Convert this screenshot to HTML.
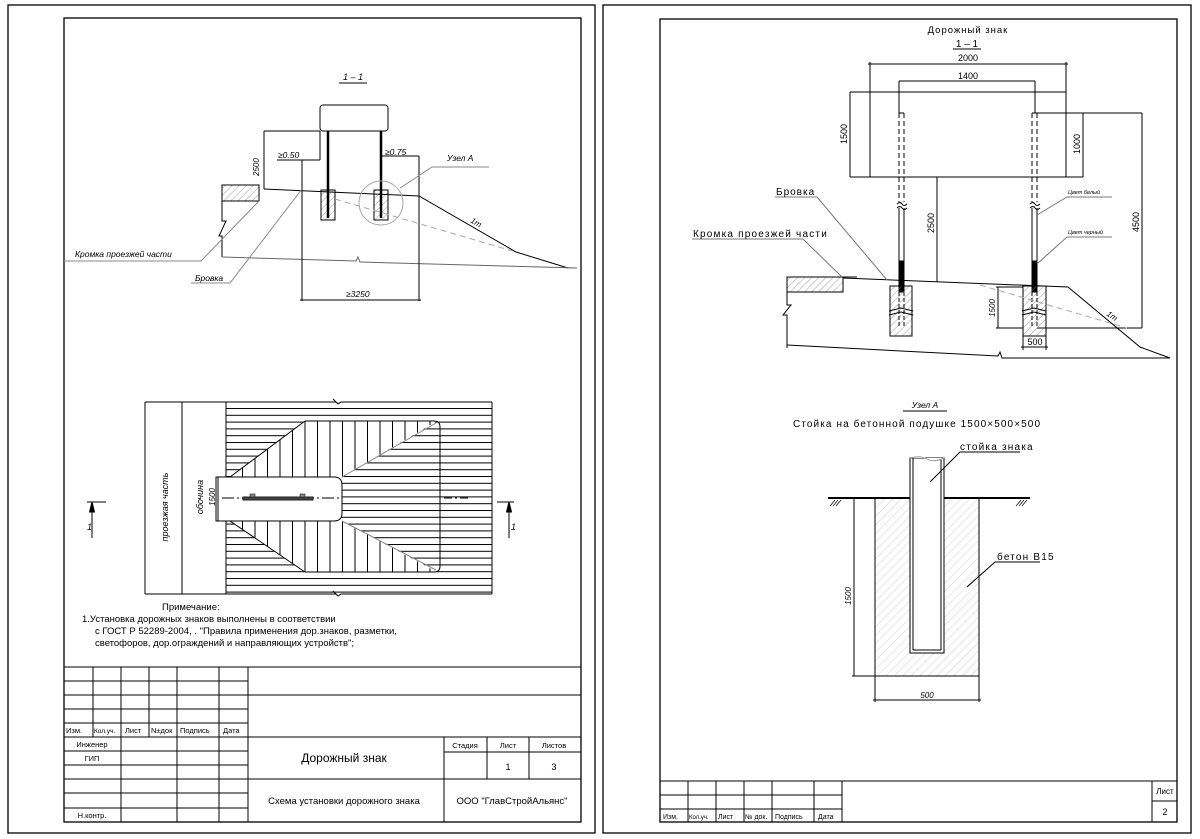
<!DOCTYPE html>
<html><head><meta charset="utf-8"><style>
html,body{margin:0;padding:0;background:#fff}
svg{display:block}
text{font-family:"Liberation Sans",sans-serif;fill:#000}
.i{font-style:italic}
</style></head><body>
<svg width="1200" height="839" viewBox="0 0 1200 839" xmlns="http://www.w3.org/2000/svg">
<defs>
<pattern id="h" width="5" height="5" patternUnits="userSpaceOnUse" patternTransform="rotate(45)"><line x1="0" y1="0" x2="0" y2="5" stroke="#888" stroke-width="0.8"/></pattern>
<pattern id="h2" width="6" height="6" patternUnits="userSpaceOnUse" patternTransform="rotate(45)"><line x1="0" y1="0" x2="0" y2="6" stroke="#bbb" stroke-width="0.7"/></pattern>
<pattern id="hz" width="10" height="6.8" patternUnits="userSpaceOnUse"><line x1="0" y1="0.5" x2="10" y2="0.5" stroke="#000" stroke-width="1"/></pattern>
<pattern id="vt" width="12.5" height="10" patternUnits="userSpaceOnUse"><line x1="5" y1="0" x2="5" y2="10" stroke="#000" stroke-width="1"/></pattern>
<clipPath id="armT"><polygon points="305,421 437,421 342,477 230,477"/></clipPath>
<clipPath id="armB"><polygon points="230,521 342,521 437,572 305,572"/></clipPath>
</defs>
<rect width="1200" height="839" fill="#fff"/>
<g fill="none" stroke="#000" stroke-width="1.3">
<rect x="8" y="5" width="587" height="828"/>
<rect x="64" y="18" width="517" height="804"/>
<rect x="603" y="5" width="588" height="828"/>
<rect x="660" y="19" width="517" height="803"/>
</g>

<!-- LEFT TITLE BLOCK -->
<g stroke="#000" stroke-width="1" fill="none">
<line x1="64" y1="667" x2="581" y2="667"/>
<line x1="64" y1="681" x2="248" y2="681"/>
<line x1="64" y1="695" x2="581" y2="695"/>
<line x1="64" y1="709" x2="248" y2="709"/>
<line x1="64" y1="723" x2="248" y2="723"/>
<line x1="64" y1="737" x2="581" y2="737"/>
<line x1="64" y1="751" x2="248" y2="751"/>
<line x1="444" y1="752" x2="581" y2="752"/>
<line x1="64" y1="765" x2="248" y2="765"/>
<line x1="64" y1="779" x2="581" y2="779"/>
<line x1="64" y1="793" x2="248" y2="793"/>
<line x1="64" y1="808" x2="248" y2="808"/>
<line x1="93" y1="667" x2="93" y2="737"/>
<line x1="149" y1="667" x2="149" y2="737"/>
<line x1="121" y1="667" x2="121" y2="822"/>
<line x1="177" y1="667" x2="177" y2="822"/>
<line x1="219" y1="667" x2="219" y2="822"/>
<line x1="248" y1="667" x2="248" y2="822"/>
<line x1="444" y1="737" x2="444" y2="822"/>
<line x1="487" y1="737" x2="487" y2="779"/>
<line x1="529" y1="737" x2="529" y2="779"/>
</g>
<g font-size="7.5">
<text x="66" y="733">Изм.</text><text x="94" y="733" font-size="6.5">Кол.уч.</text><text x="125" y="733">Лист</text><text x="151" y="733">N±док</text><text x="180" y="733">Подпись</text><text x="223" y="733">Дата</text>
<text x="92" y="747" text-anchor="middle">Инженер</text>
<text x="92" y="761" text-anchor="middle">ГИП</text>
<text x="92" y="818" text-anchor="middle">Н.контр.</text>
<text x="465" y="748" text-anchor="middle">Стадия</text>
<text x="508" y="748" text-anchor="middle">Лист</text>
<text x="554" y="748" text-anchor="middle">Листов</text>
<text x="508" y="770" text-anchor="middle" font-size="9">1</text>
<text x="554" y="770" text-anchor="middle" font-size="9">3</text>
</g>
<text x="344" y="762" text-anchor="middle" font-size="12">Дорожный знак</text>
<text x="344" y="804" text-anchor="middle" font-size="9.5">Схема установки дорожного знака</text>
<text x="512" y="804" text-anchor="middle" font-size="9.5">ООО "ГлавСтройАльянс"</text>

<!-- RIGHT TITLE BLOCK -->
<g stroke="#000" stroke-width="1" fill="none">
<line x1="660" y1="781" x2="1177" y2="781"/>
<line x1="660" y1="795" x2="842" y2="795"/>
<line x1="660" y1="809" x2="842" y2="809"/>
<line x1="1152" y1="801" x2="1177" y2="801"/>
<line x1="688" y1="781" x2="688" y2="822"/>
<line x1="716" y1="781" x2="716" y2="822"/>
<line x1="744" y1="781" x2="744" y2="822"/>
<line x1="772" y1="781" x2="772" y2="822"/>
<line x1="814" y1="781" x2="814" y2="822"/>
<line x1="842" y1="781" x2="842" y2="822"/>
<line x1="1152" y1="781" x2="1152" y2="822"/>
</g>
<g font-size="7">
<text x="663" y="819">Изм.</text><text x="689" y="819" font-size="6">Кол.уч.</text><text x="718" y="819">Лист</text><text x="745" y="819">№ док.</text><text x="775" y="819">Подпись</text><text x="818" y="819">Дата</text>
<text x="1165" y="794" text-anchor="middle" font-size="8">Лист</text>
<text x="1165" y="815" text-anchor="middle" font-size="9">2</text>
</g>

<!-- LEFT SECTION 1-1 -->
<g stroke="#000" stroke-width="1" fill="none">
<text x="353" y="80" class="i" font-size="9" text-anchor="middle" stroke="none">1 – 1</text>
<line x1="339" y1="83" x2="367" y2="83"/>
<rect x="320" y="105" width="68" height="26" rx="3"/>
<rect x="321" y="190" width="14" height="30" fill="url(#h)"/>
<rect x="374" y="190" width="14" height="30" fill="url(#h)"/>
<line x1="328" y1="131" x2="328" y2="218" stroke-width="2.5"/>
<line x1="381" y1="131" x2="381" y2="218" stroke-width="2.5"/>
<rect x="222" y="185" width="37" height="16" fill="url(#h)"/>
<polyline points="264,189 419,196 516,252 568,268"/>
<line x1="568" y1="268" x2="577" y2="268" stroke="#999"/>
<polyline points="222,201 222,221 226,221 219,236 222,236 222,257"/>
<polyline points="222,257 356,261 358,257 360,262 577,268" stroke="#666"/>
<line x1="335" y1="199" x2="516" y2="252" stroke="#aaa" stroke-dasharray="6,4"/>
<line x1="264" y1="131" x2="264" y2="189"/>
<line x1="264" y1="131" x2="320" y2="131"/>
<line x1="320" y1="131" x2="320" y2="160"/>
<line x1="277" y1="160" x2="320" y2="160"/>
<line x1="302" y1="160" x2="302" y2="301"/>
<line x1="381" y1="156" x2="419" y2="156"/>
<line x1="419" y1="156" x2="419" y2="301"/>
<line x1="300" y1="300" x2="421" y2="300"/>
<circle cx="381" cy="203" r="22" stroke="#aaa"/>
<polyline points="400,188 432,167 489,167" stroke="#888"/>
<polyline points="259,201 201,261 64,261" stroke="#888"/>
<polyline points="302,189 230,283 191,283" stroke="#888"/>
</g>
<g class="i" font-size="8.5">
<text x="259" y="176" transform="rotate(-90 259 176)" font-size="8">2500</text>
<text x="278" y="158">≥0.50</text>
<text x="385" y="155">≥0.75</text>
<text x="447" y="161">Узел А</text>
<text x="470" y="222" transform="rotate(30 470 222)" font-size="8">1т</text>
<text x="75" y="257">Кромка проезжей части</text>
<text x="195" y="281">Бровка</text>
<text x="346" y="297">≥3250</text>
</g>

<!-- LEFT PLAN -->
<g stroke="#000" stroke-width="1" fill="none">
<rect x="226" y="402" width="266" height="192" fill="url(#hz)" stroke="none"/>
<polygon points="305,421 437,421 342,477 230,477" fill="#fff" stroke="none"/>
<polygon points="230,521 342,521 437,572 305,572" fill="#fff" stroke="none"/>
<rect x="230" y="421" width="210" height="56" fill="url(#vt)" clip-path="url(#armT)" stroke="none"/>
<rect x="230" y="521" width="210" height="52" fill="url(#vt)" clip-path="url(#armB)" stroke="none"/>
<line x1="145" y1="402" x2="336" y2="402"/><polyline points="336,402 333,399 338,404 341,402 492,402"/>
<line x1="145" y1="594" x2="336" y2="594"/><polyline points="336,594 333,591 338,596 341,594 492,594"/>
<line x1="145" y1="402" x2="145" y2="594"/>
<line x1="182" y1="402" x2="182" y2="594"/>
<line x1="226" y1="402" x2="226" y2="594"/>
<line x1="492" y1="402" x2="492" y2="594"/>
<path d="M305,421 L434,421 Q440,421 440,427 L440,566 Q440,572 434,572 L305,572"/>
<line x1="305" y1="421" x2="230" y2="477"/>
<line x1="305" y1="572" x2="230" y2="521"/>
<line x1="342" y1="477" x2="436" y2="423" stroke="#888"/>
<line x1="342" y1="521" x2="436" y2="570" stroke="#888"/>
<path d="M216,477 L334,477 Q342,477 342,485 L342,513 Q342,521 334,521 L216,521 Z" fill="#fff"/>
<line x1="222" y1="498" x2="342" y2="498" stroke-dasharray="12,3,2,3"/>
<line x1="444" y1="498" x2="470" y2="498" stroke-dasharray="8,3,2,3"/>
<rect x="243" y="497" width="70" height="3" fill="#444" stroke="#222"/>
<rect x="250" y="494" width="5" height="3" fill="#888" stroke="#222" stroke-width="0.6"/>
<rect x="300" y="494" width="5" height="3" fill="#888" stroke="#222" stroke-width="0.6"/>
<line x1="218" y1="477" x2="218" y2="521"/>
<line x1="87" y1="502" x2="106" y2="502"/>
<line x1="92" y1="506" x2="92" y2="538"/>
<polygon points="92,502 89.5,512 94.5,512" fill="#000"/>
<line x1="497" y1="502" x2="514" y2="502"/>
<line x1="509" y1="506" x2="509" y2="538"/>
<polygon points="509,502 506.5,512 511.5,512" fill="#000"/>
</g>
<g class="i" font-size="9">
<text x="168" y="507" transform="rotate(-90 168 507)" text-anchor="middle">проезжая  часть</text>
<text x="203" y="497" transform="rotate(-90 203 497)" text-anchor="middle">обочина</text>
<text x="215" y="497" transform="rotate(-90 215 497)" text-anchor="middle" font-size="8">1500</text>
<text x="87" y="530">1</text>
<text x="511" y="530">1</text>
</g>
<g font-size="9.5">
<text x="162" y="610">Примечание:</text>
<text x="82" y="622">1.Установка дорожных знаков выполнены в соответствии</text>
<text x="95" y="634">с  ГОСТ Р 52289-2004, . "Правила применения дор.знаков, разметки,</text>
<text x="95" y="646">светофоров, дор.ограждений и направляющих устройств";</text>
</g>

<!-- RIGHT SECTION -->
<g stroke="#000" stroke-width="1" fill="none">
<line x1="953" y1="49" x2="981" y2="49"/>
<line x1="868" y1="64" x2="1068" y2="64"/>
<line x1="870" y1="62" x2="870" y2="177"/>
<line x1="1066" y1="62" x2="1066" y2="177"/>
<line x1="850" y1="92" x2="1066" y2="92"/>
<line x1="850" y1="177" x2="1083" y2="177"/>
<line x1="850" y1="92" x2="850" y2="177"/>
<line x1="899" y1="81" x2="1035" y2="81"/>
<line x1="899" y1="81" x2="899" y2="113"/>
<line x1="1035" y1="81" x2="1035" y2="113"/>
<line x1="1037" y1="113" x2="1142" y2="113"/>
<line x1="1083" y1="113" x2="1083" y2="177"/>
<line x1="1142" y1="113" x2="1142" y2="328"/>
<line x1="1037" y1="328" x2="1142" y2="328"/>
<line x1="937" y1="177" x2="937" y2="282"/>
<g stroke-dasharray="5,3">
<line x1="899" y1="113" x2="899" y2="202"/><line x1="904" y1="113" x2="904" y2="202"/>
<line x1="1032" y1="113" x2="1032" y2="202"/><line x1="1037" y1="113" x2="1037" y2="202"/>
</g>
<line x1="899" y1="113" x2="904" y2="113"/><line x1="1032" y1="113" x2="1037" y2="113"/>
<path d="M897,204 q3,-3 5,0 t5,0 M897,208 q3,-3 5,0 t5,0 M1030,204 q3,-3 5,0 t5,0 M1030,208 q3,-3 5,0 t5,0"/>
<line x1="899" y1="208" x2="899" y2="292"/><line x1="904" y1="208" x2="904" y2="292"/>
<line x1="1032" y1="208" x2="1032" y2="292"/><line x1="1037" y1="208" x2="1037" y2="292"/>
<rect x="899" y="261" width="5" height="31" fill="#000"/>
<rect x="1032" y="261" width="5" height="31" fill="#000"/>
<rect x="890" y="286" width="22" height="50" fill="url(#h)"/>
<rect x="1023" y="286" width="23" height="50" fill="url(#h)"/>
<path d="M889,311 l12,-3 l12,3 M889,315 l12,-3 l12,3 M1022,311 l12,-3 l12,3 M1022,315 l12,-3 l12,3" stroke="#000"/>
<g stroke-dasharray="4,2"><line x1="899" y1="292" x2="899" y2="328"/><line x1="904" y1="292" x2="904" y2="328"/><line x1="1032" y1="292" x2="1032" y2="328"/><line x1="1037" y1="292" x2="1037" y2="328"/></g>
<rect x="787" y="277" width="56" height="15" fill="url(#h)"/>
<line x1="787" y1="277" x2="857" y2="277"/>
<polyline points="843,278 1068,287 1140,347 1170,358"/>
<polyline points="787,277 787,305 791,305 783,315 787,315 787,348"/>
<polyline points="787,345 998,356 1000,352 1002,358 1170,358"/>
<line x1="980" y1="285" x2="1127" y2="328" stroke="#aaa" stroke-dasharray="6,4"/>
<line x1="998" y1="287" x2="998" y2="328"/>
<line x1="996" y1="287" x2="1023" y2="287"/>
<line x1="996" y1="328" x2="1023" y2="328"/>
<line x1="1023" y1="336" x2="1023" y2="350"/><line x1="1046" y1="336" x2="1046" y2="350"/>
<line x1="1021" y1="347" x2="1048" y2="347"/>
<polyline points="887,280 817,197 775,197" stroke="#777"/>
<polyline points="842,277 803,239 692,239" stroke="#777"/>
<polyline points="1037,215 1067,197 1112,197" stroke="#777"/>
<polyline points="1038,263 1067,237 1112,237" stroke="#777"/>
</g>
<g font-size="9">
<text x="968" y="33" text-anchor="middle" letter-spacing="1" font-size="9.5">Дорожный знак</text>
<text x="967" y="47" text-anchor="middle" font-size="10">1 – 1</text>
<text x="968" y="61" text-anchor="middle">2000</text>
<text x="968" y="79" text-anchor="middle">1400</text>
<text x="847" y="134" transform="rotate(-90 847 134)" text-anchor="middle">1500</text>
<text x="1080" y="144" transform="rotate(-90 1080 144)" text-anchor="middle">1000</text>
<text x="934" y="223" transform="rotate(-90 934 223)" text-anchor="middle">2500</text>
<text x="1139" y="222" transform="rotate(-90 1139 222)" text-anchor="middle">4500</text>
<text x="995" y="308" transform="rotate(-90 995 308)" text-anchor="middle" font-size="8" class="i">1500</text>
<text x="1035" y="345" text-anchor="middle">500</text>
<text x="1106" y="315" transform="rotate(35 1106 315)" class="i" font-size="8">1т</text>
<text x="776" y="195" fill="#555" letter-spacing="1" font-size="10">Бровка</text>
<text x="693" y="237" letter-spacing="1.2" font-size="10">Кромка проезжей части</text>
<text x="1068" y="194" class="i" font-size="5.5">Цвет белый</text>
<text x="1068" y="234" class="i" font-size="5.5">Цвет черный</text>
</g>

<!-- UZEL A -->
<g stroke="#000" stroke-width="1" fill="none">
<line x1="903" y1="411" x2="947" y2="411"/>
<rect x="875" y="498" width="104" height="178" fill="url(#h2)"/>
<line x1="828" y1="498" x2="1030" y2="498" stroke-width="2"/>
<path d="M830,506 l5,-6 M833,506 l5,-6 M836,506 l5,-6 M1016,506 l5,-6 M1019,506 l5,-6 M1022,506 l5,-6" stroke-width="0.7"/>
<rect x="910" y="458" width="34" height="195" fill="#fff"/>
<line x1="913" y1="458" x2="913" y2="650"/><line x1="941" y1="458" x2="941" y2="650"/>
<line x1="913" y1="650" x2="941" y2="650"/>
<path d="M910,458 q10,-3 17,1 t17,-1" stroke="#999" fill="#fff"/>
<line x1="854" y1="498" x2="854" y2="676"/>
<line x1="852" y1="676" x2="877" y2="676"/>
<line x1="875" y1="676" x2="875" y2="702"/><line x1="979" y1="676" x2="979" y2="702"/>
<line x1="873" y1="700" x2="981" y2="700"/>
<polyline points="930,482 960,452 1020,452"/>
<polyline points="967,587 995,562 1040,562"/>
</g>
<g font-size="9.5">
<text x="925" y="408" text-anchor="middle" class="i" font-size="8.5">Узел А</text>
<text x="793" y="427" letter-spacing="1.1" font-size="10">Стойка на бетонной подушке 1500×500×500</text>
<text x="960" y="450" letter-spacing="1.2" font-size="10">стойка знака</text>
<text x="997" y="560" letter-spacing="1.2" font-size="10">бетон В15</text>
<text x="851" y="596" transform="rotate(-90 851 596)" text-anchor="middle" class="i" font-size="8">1500</text>
<text x="927" y="698" text-anchor="middle" class="i" font-size="8">500</text>
</g>
</svg>
</body></html>
